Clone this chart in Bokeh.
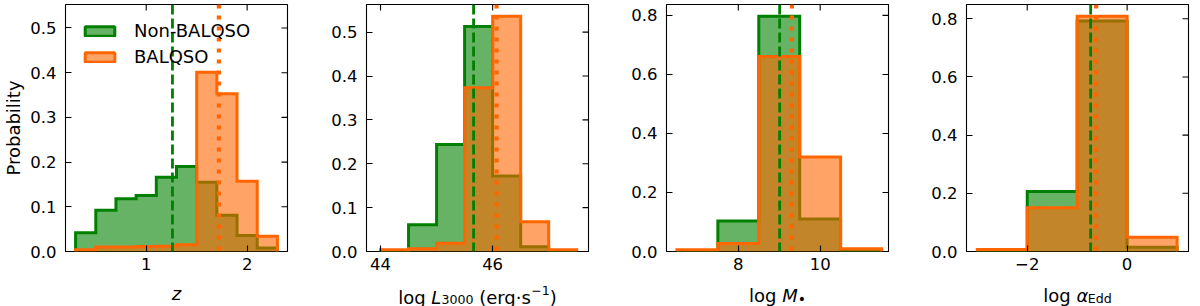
import math
from bokeh.plotting import figure
from bokeh.layouts import row, column
from bokeh.core.properties import value
from bokeh.models import (Range1d, FixedTicker, NumeralTickFormatter,
                          Span, Legend, LegendItem)
from bokeh.embed import file_html
from bokeh.resources import INLINE

# ---------------- data ----------------
z_bins = [0.3, 0.5, 0.7, 0.9, 1.1, 1.3, 1.5, 1.7, 1.9, 2.1, 2.3]
z_non = [0.042, 0.092, 0.118, 0.125, 0.166, 0.190, 0.155, 0.081, 0.036, 0.008]
z_bal = [0.004, 0.010, 0.010, 0.011, 0.012, 0.015, 0.401, 0.353, 0.157, 0.034]
z_med = [1.26, 1.72]          # Non-BALQSO, BALQSO

L_bins = [44.0, 44.5, 45.0, 45.5, 46.0, 46.5, 47.0, 47.5]
L_non = [0.0, 0.061, 0.244, 0.513, 0.172, 0.011, 0.0]
L_bal = [0.004, 0.006, 0.019, 0.373, 0.536, 0.068, 0.004]
L_med = [45.66, 46.07]

M_bins = [6.5, 7.5, 8.5, 9.5, 10.5, 11.5]
M_non = [0.0, 0.103, 0.797, 0.110, 0.0]
M_bal = [0.006, 0.027, 0.661, 0.320, 0.009]
M_med = [9.01, 9.31]

E_bins = [-3.0, -2.0, -1.0, 0.0, 1.0]
E_non = [0.0, 0.206, 0.792, 0.015]
E_bal = [0.007, 0.150, 0.809, 0.049]
E_med = [-0.73, -0.62]

labels = ["Non-BALQSO", "BALQSO"]
y_label = "Probability"

# tick labels
z_xticks = [1, 2]
L_xticks = [44, 46]
M_xticks = [8, 10]
E_xticks = [-2, 0]
E_xtick_labels = {-2: "\u22122", 0: "0"}
y_ticks_a = [0.0, 0.1, 0.2, 0.3, 0.4, 0.5]
y_ticks_b = [0.0, 0.2, 0.4, 0.6, 0.8]

# ---------------- style ----------------
GREEN = "#008000"
ORANGE = "#ff6600"
FONT = "DejaVu Sans"
TICK_FS = "16.5px"
LAB_FS = 18.0
SUB_FS = 12.6
TICK_LEN = 6
B_TOP = 4
FRAME_H = 247
B_BOT = 28
MAIN_H = B_TOP + FRAME_H + B_BOT     # 279
LAB_H = 306 - MAIN_H                 # 27

# DejaVu Sans advance widths (em units / 2048)
ADV = {' ': 651, '(': 799, ')': 799, 'l': 569, 'o': 1253, 'g': 1300, 'e': 1260,
       'r': 842, 's': 1067, '\u00b7': 651, '\u2212': 1716, 'E': 1294, 'd': 1300,
       'L': 1141, 'M': 1767, 'z': 1075, '\u03b1': 1300, '\u2022': 1208}
for c in "0123456789":
    ADV[c] = 1303


def text_w(s, fs):
    return sum(ADV.get(c, 1200) for c in s) / 2048.0 * fs


def step_path(edges, h):
    xs = [edges[0]]
    ys = [0.0]
    for i in range(len(h)):
        xs += [edges[i], edges[i + 1]]
        ys += [h[i], h[i]]
    xs.append(edges[-1])
    ys.append(0.0)
    return xs, ys


def make_panel(width, bl, br, xr, ytop, bins, hn, hb, med, xticks, yticks,
               xlabel_pieces, base_y, xoverrides=None):
    x_range = Range1d(*xr)
    p = figure(width=width, height=MAIN_H, x_range=x_range, y_range=Range1d(0, ytop),
               output_backend="svg", toolbar_location=None,
               min_border_left=bl, min_border_right=br, min_border_top=B_TOP,
               min_border_bottom=B_BOT, background_fill_color="white",
               border_fill_color="white")
    p.grid.visible = False
    p.outline_line_color = "black"
    p.outline_line_width = 1.1

    bx = p.below[0]
    ly = p.left[0]
    bx.ticker = FixedTicker(ticks=xticks)
    ly.ticker = FixedTicker(ticks=yticks)
    ly.formatter = NumeralTickFormatter(format="0.0")
    if xoverrides:
        bx.major_label_overrides = xoverrides
    for ax in (bx, ly):
        ax.axis_line_color = None
        ax.major_tick_in = TICK_LEN
        ax.major_tick_out = 0
        ax.minor_tick_in = 0
        ax.minor_tick_out = 0
        ax.major_tick_line_color = "black"
        ax.major_tick_line_width = 1.1
        ax.major_label_text_font = FONT
        ax.major_label_text_font_size = TICK_FS
        ax.major_label_text_color = "black"
    bx.major_label_standoff = 6
    ly.major_label_standoff = 9

    # histograms: green first, then orange (fill then outline)
    for h, col in ((hn, GREEN), (hb, ORANGE)):
        xs, ys = step_path(bins, h)
        p.patch(xs, ys, fill_color=col, fill_alpha=0.6, line_color=None)
        p.line(xs, ys, line_color=col, line_width=3, line_join="miter")

    p.add_layout(Span(location=med[0], dimension="height", line_color=GREEN,
                      line_width=2.8, line_dash="10 4"))
    p.add_layout(Span(location=med[1], dimension="height", line_color=ORANGE,
                      line_width=4.2, line_dash="4 7"))

    # inward ticks on the top and right edges (half of each dash is clipped by the frame)
    p.scatter(x=xticks, y=[ytop] * len(xticks), marker="dash", size=2 * TICK_LEN,
              angle=math.pi / 2, line_color="black", line_width=1.1)
    p.scatter(x=[xr[1]] * len(yticks), y=yticks, marker="dash", size=2 * TICK_LEN,
              line_color="black", line_width=1.1)

    # label strip below the panel, sharing the x range (1 y unit = 1 px)
    q = figure(width=width, height=LAB_H, x_range=x_range, y_range=Range1d(0, LAB_H),
               output_backend="svg", toolbar_location=None,
               min_border_left=bl, min_border_right=br, min_border_top=0,
               min_border_bottom=0, x_axis_location=None, y_axis_location=None,
               background_fill_color="white", border_fill_color="white")
    q.grid.visible = False
    q.outline_line_color = None
    xc = (xr[0] + xr[1]) / 2.0
    total = sum(text_w(t, fs) for t, it, fs, sh in xlabel_pieces)
    off = -total / 2.0
    for t, it, fs, sh in xlabel_pieces:
        s = t.lstrip(" ")
        lead = text_w(t[:len(t) - len(s)], fs)
        q.text(x=[xc], y=[base_y + sh], text=[s.rstrip(" ")], x_offset=off + lead,
               text_font=value(FONT), text_font_size="%.1fpx" % fs,
               text_font_style="italic" if it else "normal",
               text_align="left", text_baseline="alphabetic", text_color="black")
        off += text_w(t, fs)
    return p, q


# baseline heights in the label strip (px from its bottom)
p1, q1 = make_panel(300, 65, 13, (0.2, 2.4), 0.5525, z_bins, z_non, z_bal, z_med,
                    z_xticks, y_ticks_a, [("z", True, LAB_FS, 0)], 13)
p2, q2 = make_panel(300, 66, 12, (43.75, 47.71), 0.563, L_bins, L_non, L_bal, L_med,
                    L_xticks, y_ticks_a,
                    [("log ", False, LAB_FS, 0), ("L", True, LAB_FS, 0),
                     ("3000", False, SUB_FS, -2.5), (" (erg\u00b7s", False, LAB_FS, 0),
                     ("\u22121", False, SUB_FS, 7), (")", False, LAB_FS, 0)], 9.5)
p3, q3 = make_panel(300, 66, 12, (6.245, 11.67), 0.837, M_bins, M_non, M_bal, M_med,
                    M_xticks, y_ticks_b,
                    [("log ", False, LAB_FS, 0), ("M", True, LAB_FS, 0),
                     ("\u2022", False, 14.0, -3.5)], 11)
p4, q4 = make_panel(300, 66, 12, (-3.216, 1.229), 0.849, E_bins, E_non, E_bal, E_med,
                    E_xticks, y_ticks_b,
                    [("log ", False, LAB_FS, 0), ("\u03b1", True, LAB_FS, 0),
                     ("Edd", False, SUB_FS, -2.5)], 11, xoverrides=E_xtick_labels)

# y label of first panel
ax1 = p1.left[0]
ax1.axis_label = y_label
ax1.axis_label_text_font = FONT
ax1.axis_label_text_font_size = "18px"
ax1.axis_label_text_font_style = "normal"
ax1.axis_label_text_color = "black"
ax1.axis_label_standoff = 3

# legend in first panel (renderers with NaN data only carry the styles)
nan = float("nan")
dummy_g = p1.quad(left=[nan], right=[nan], top=[nan], bottom=[nan], fill_color=GREEN,
                  fill_alpha=0.6, line_color=GREEN, line_width=3)
dummy_o = p1.quad(left=[nan], right=[nan], top=[nan], bottom=[nan], fill_color=ORANGE,
                  fill_alpha=0.6, line_color=ORANGE, line_width=3)
leg = Legend(items=[LegendItem(label=labels[0], renderers=[dummy_g]),
                    LegendItem(label=labels[1], renderers=[dummy_o])],
             location="top_left", border_line_color=None, background_fill_alpha=0,
             glyph_width=37, glyph_height=12, label_standoff=16, spacing=5,
             padding=0, margin=16, label_text_font=FONT, label_text_font_size="18px",
             label_text_color="black")
p1.add_layout(leg)

layout = row(column(p1, q1), column(p2, q2), column(p3, q3), column(p4, q4))
open("out.html", "w").write(file_html(layout, INLINE))
